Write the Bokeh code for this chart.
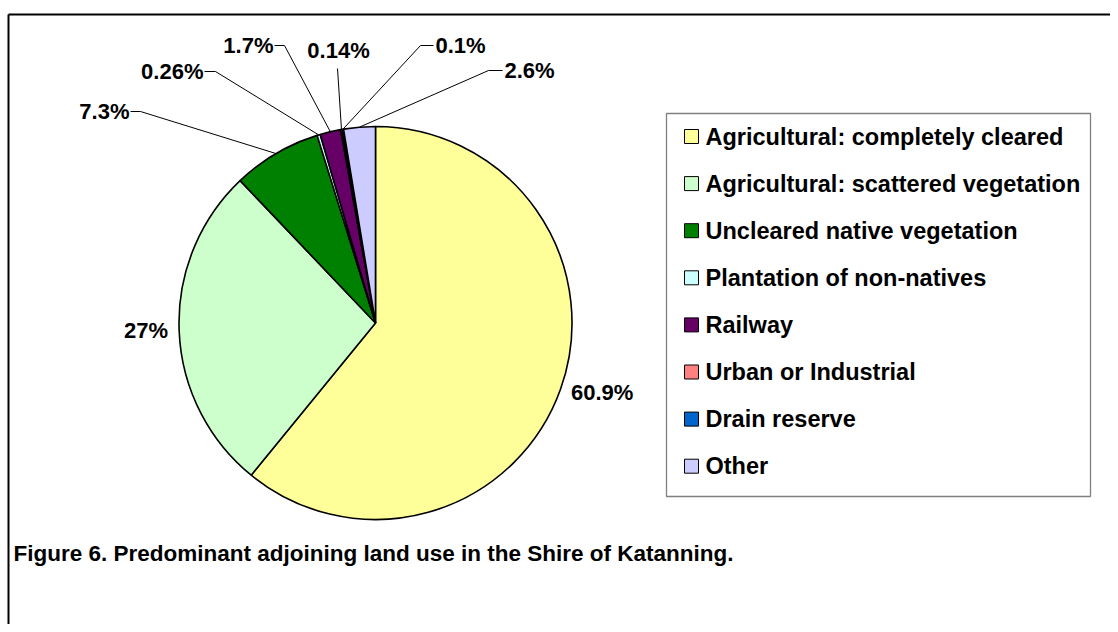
import math
from bokeh.plotting import figure
from bokeh.models import Range1d
from bokeh.embed import file_html
from bokeh.resources import INLINE
from bokeh.core.properties import value

# ---------------- data ----------------
categories = [
    "Agricultural: completely cleared",
    "Agricultural: scattered vegetation",
    "Uncleared native vegetation",
    "Plantation of non-natives",
    "Railway",
    "Urban or Industrial",
    "Drain reserve",
    "Other",
]
percent = [60.9, 27.0, 7.3, 0.26, 1.7, 0.14, 0.1, 2.6]
pct_labels = ["60.9%", "27%", "7.3%", "0.26%", "1.7%", "0.14%", "0.1%", "2.6%"]
colors = ["#FFFF99", "#CCFFCC", "#008000", "#CCFFFF", "#660066", "#FF8080", "#0066CC", "#CCCCFF"]
title_text = "Figure 6. Predominant adjoining land use in the Shire of Katanning."

# ---------------- layout (picture pixel coordinates) ----------------
W, H = 1110, 624
FONT = value("Liberation Sans")


def Y(py):
    return H - py


CX, CY, R = 375, 322.5, 196.5

# manual label placement for small slices: text anchor, alignment, elbow point
callout = {
    2: dict(tx=129, ty=111, align="right", elbow=(140, 111)),
    3: dict(tx=203, ty=71, align="right", elbow=(215, 71)),
    4: dict(tx=273, ty=45, align="right", elbow=(284, 45)),
    5: dict(tx=338, ty=50, align="center", elbow=(337, 68)),
    6: dict(tx=435, ty=45, align="left", elbow=(420, 45)),
    7: dict(tx=504, ty=70, align="left", elbow=(488, 70)),
}

LEG_L, LEG_T, LEG_R, LEG_B = 666, 113, 1090, 496
LEG_ROW0, LEG_STEP = 136, 47.1
SW_X, SW_S, TXT_X = 684, 14, 705

p = figure(width=W, height=H, x_range=Range1d(0, W), y_range=Range1d(0, H),
           output_backend="svg", toolbar_location=None, min_border=0,
           background_fill_color="white", border_fill_color="white")
p.axis.visible = False
p.grid.visible = False
p.outline_line_color = None

# frame
p.line([8, W], [Y(14), Y(14)], line_color="black", line_width=2)
p.line([8, 8], [Y(14), Y(H)], line_color="black", line_width=2)

# pie
total = sum(percent)
cum = 0.0
starts, ends, mids = [], [], []
for v in percent:
    a0 = math.pi / 2 - 2 * math.pi * cum / total
    cum += v
    a1 = math.pi / 2 - 2 * math.pi * cum / total
    starts.append(a0)
    ends.append(a1)
    mids.append((a0 + a1) / 2)

p.wedge(x=[CX] * len(percent), y=[Y(CY)] * len(percent), radius=R,
        start_angle=starts, end_angle=ends, direction="clock",
        fill_color=colors, line_color="black", line_width=1.6)

# labels
for i, lab in enumerate(pct_labels):
    m = mids[i]
    ex, ey = CX + R * math.cos(m), Y(CY) + R * math.sin(m)
    if i in callout:
        c = callout[i]
        elx, ely = c["elbow"]
        if c["align"] == "right":
            xs = [c["tx"] + 1, elx, ex]
            ys = [Y(c["ty"]), Y(ely), ey]
        elif c["align"] == "left":
            xs = [c["tx"] - 2, elx, ex]
            ys = [Y(c["ty"]), Y(ely), ey]
        else:
            xs = [elx, ex]
            ys = [Y(ely), ey]
        p.line(xs, ys, line_color="black", line_width=1)
        p.text(x=[c["tx"]], y=[Y(c["ty"])], text=[lab], text_font=FONT,
               text_font_style="bold", text_font_size="22px",
               text_align=c["align"], text_baseline="middle", text_color="black")
    else:
        lx = CX + (R + 11) * math.cos(m)
        ly = Y(CY) + (R + 11) * math.sin(m)
        p.text(x=[lx], y=[ly], text=[lab], text_font=FONT,
               text_font_style="bold", text_font_size="22px",
               text_align="left" if math.cos(m) > 0 else "right",
               text_baseline="middle", text_color="black")

# legend
p.quad(left=[LEG_L], right=[LEG_R], top=[Y(LEG_T)], bottom=[Y(LEG_B)],
       fill_color="white", line_color="#808080", line_width=1.3)
rows = [LEG_ROW0 + k * LEG_STEP for k in range(len(categories))]
p.quad(left=[SW_X] * len(rows), right=[SW_X + SW_S] * len(rows),
       top=[Y(r - SW_S / 2) for r in rows], bottom=[Y(r + SW_S / 2) for r in rows],
       fill_color=colors, line_color="black", line_width=1)
p.text(x=[TXT_X] * len(rows), y=[Y(r) for r in rows], text=categories,
       text_font=FONT, text_font_style="bold", text_font_size="23.5px",
       text_align="left", text_baseline="middle", text_color="black")

# caption
p.text(x=[13], y=[Y(553)], text=[title_text], text_font=FONT,
       text_font_style="bold", text_font_size="22.5px", text_align="left",
       text_baseline="middle", text_color="black")

open("out.html", "w").write(file_html(p, INLINE))
